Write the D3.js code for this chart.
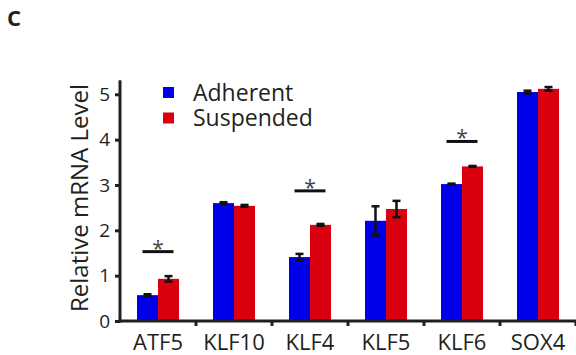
<!DOCTYPE html>
<html>
<head>
<meta charset="utf-8">
<script src="https://cdn.jsdelivr.net/npm/d3@7"></script>
<style>
  body { margin: 0; background: #fff; }
  svg text { font-family: "Open Sans", sans-serif; fill: #231f20; }
</style>
</head>
<body>
<svg id="chart" width="576" height="355"></svg>
<script>
// data
const genes = ['ATF5', 'KLF10', 'KLF4', 'KLF5', 'KLF6', 'SOX4'];
const series = ['Adherent', 'Suspended'];
const adherent = [0.57, 2.60, 1.41, 2.21, 3.02, 5.05];
const adherentErr = [0.02, 0.02, 0.07, 0.32, 0.01, 0.03];
const suspended = [0.93, 2.54, 2.12, 2.47, 3.41, 5.12];
const suspendedErr = [0.06, 0.02, 0.02, 0.18, 0.01, 0.04];
const sigGenes = ['ATF5', 'KLF4', 'KLF6'];
const sigLevel = [1.53, 2.87, 3.96];
const yTicks = [0, 1, 2, 3, 4, 5];
const colors = ['#0000e8', '#da0010'];

const w = 576, h = 355;
const svg = d3.select('#chart');

// x band per gene, inner band per series
let xScale = d3.scaleBand()
  .domain(genes)
  .range([120, 576]);

let xInner = d3.scaleBand()
  .domain(series)
  .range([0, 42]);

let yScale = d3.scaleLinear()
  .domain([0, 5])
  .range([321, 94.3]);

let rows = genes.map((g, i) => ({
  gene: g,
  vals: [
    {s: series[0], v: adherent[i], e: adherentErr[i]},
    {s: series[1], v: suspended[i], e: suspendedErr[i]}
  ]
}));

let groups = svg.selectAll('g.grp')
  .data(rows)
  .enter()
  .append('g')
  .attr('class', 'grp')
  .attr('transform', (d) => `translate(${xScale(d.gene) + (xScale.bandwidth() - 42) / 2},0)`);

groups.selectAll('rect')
  .data((d) => d.vals)
  .enter()
  .append('rect')
  .attr('x', (d) => xInner(d.s))
  .attr('y', (d) => yScale(d.v))
  .attr('width', xInner.bandwidth())
  .attr('height', (d) => yScale(0) - yScale(d.v))
  .attr('fill', (d, i) => colors[i]);

// error bars
let eb = groups.selectAll('g.err')
  .data((d) => d.vals)
  .enter()
  .append('g')
  .attr('class', 'err')
  .attr('stroke', '#111')
  .attr('stroke-width', 2.5);

eb.append('line')
  .attr('x1', (d) => xInner(d.s) + xInner.bandwidth() / 2)
  .attr('x2', (d) => xInner(d.s) + xInner.bandwidth() / 2)
  .attr('y1', (d) => yScale(d.v - d.e))
  .attr('y2', (d) => yScale(d.v + d.e));

[(d) => d.v - d.e, (d) => d.v + d.e].forEach((f) => {
  eb.append('line')
    .attr('x1', (d) => xInner(d.s) + xInner.bandwidth() / 2 - 4)
    .attr('x2', (d) => xInner(d.s) + xInner.bandwidth() / 2 + 4)
    .attr('y1', (d) => yScale(f(d)))
    .attr('y2', (d) => yScale(f(d)));
});

// significance marks
sigGenes.forEach((g, i) => {
  let cx = xScale(g) + xScale.bandwidth() / 2;
  svg.append('line')
    .attr('x1', cx - 15.5)
    .attr('x2', cx + 15.5)
    .attr('y1', yScale(sigLevel[i]))
    .attr('y2', yScale(sigLevel[i]))
    .attr('stroke', '#111')
    .attr('stroke-width', 3);
  svg.append('text')
    .attr('x', cx)
    .attr('y', yScale(sigLevel[i]) + 4)
    .attr('text-anchor', 'middle')
    .attr('font-size', '21px')
    .style('fill', '#444')
    .text('*');
});

// AXES
let yAxis = svg.append('g')
  .attr('transform', 'translate(120,0)')
  .call(d3.axisLeft(yScale).tickValues(yTicks).tickSize(5).tickPadding(5).tickFormat(d3.format('d')));
yAxis.select('.domain').attr('d', `M0,${yScale(5) - 14}V${yScale(0) + 1.5}`);

let xAxis = svg.append('g')
  .attr('transform', `translate(0,${yScale(0)})`)
  .call(d3.axisBottom(xScale).tickSize(0).tickPadding(13));
xAxis.select('.domain').attr('d', 'M118.5,0H576');

// small ticks between groups
xAxis.selectAll('line.sep')
  .data(genes)
  .enter()
  .append('line')
  .attr('class', 'sep')
  .attr('x1', (d) => xScale(d) + xScale.bandwidth())
  .attr('x2', (d) => xScale(d) + xScale.bandwidth())
  .attr('y1', 0)
  .attr('y2', 5);

svg.selectAll('.domain, .tick line, line.sep')
  .attr('stroke', '#231f20')
  .attr('stroke-width', 3);
yAxis.selectAll('.tick text').attr('font-size', '19px');
xAxis.selectAll('.tick text').attr('font-size', '22px');
svg.selectAll('.tick text').attr('font-family', '"Open Sans", sans-serif').style('fill', '#231f20');

// y title
svg.append('text')
  .attr('transform', `translate(88,${(yScale(0) + 75) / 2}) rotate(-90)`)
  .attr('text-anchor', 'middle')
  .attr('font-size', '24px')
  .text('Relative mRNA Level');

// legend
let legend = svg.selectAll('g.leg')
  .data(series)
  .enter()
  .append('g')
  .attr('class', 'leg')
  .attr('transform', (d, i) => `translate(163,${87 + i * 25.5})`);

legend.append('rect')
  .attr('width', 11)
  .attr('height', 11)
  .attr('fill', (d, i) => colors[i]);

legend.append('text')
  .attr('x', 30)
  .attr('y', 13.5)
  .attr('font-size', '23px')
  .text((d) => d);

// panel label
svg.append('text')
  .attr('x', 7)
  .attr('y', 26)
  .attr('font-size', '22px')
  .attr('font-weight', 'bold')
  .text('C');
</script>
</body>
</html>
